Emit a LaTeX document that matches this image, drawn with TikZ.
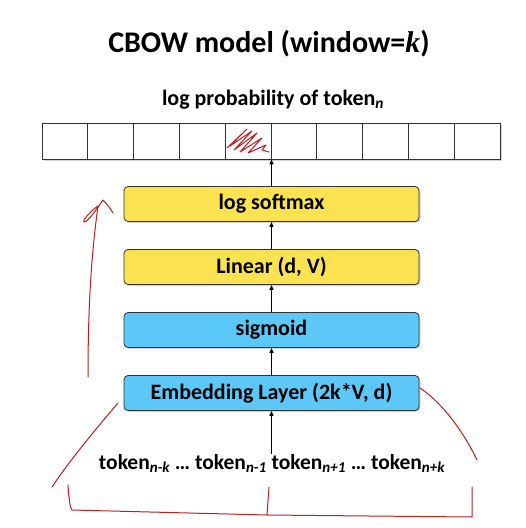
\documentclass[tikz,border=0pt]{standalone}
\usepackage{fontspec}
\setmainfont{Carlito}
\newfontfamily\kfont{Liberation Serif}
\usetikzlibrary{shadows,arrows.meta,calc}
\definecolor{ly}{RGB}{250,226,80}
\definecolor{lb}{RGB}{92,200,248}
\definecolor{pen}{RGB}{190,30,30}
\newcommand\sbs[1]{\textsubscript{\itshape #1}}
\tikzset{
  layer/.style={draw=black!80, line width=0.8pt, rounded corners=4pt, minimum width=295pt, minimum height=35pt, inner sep=0pt, font=\fontsize{22}{26}\selectfont\bfseries, drop shadow={shadow xshift=1.5pt, shadow yshift=-1.5pt, opacity=0.35}},
  flow/.style={-{Triangle[length=5pt,width=4pt]}, line width=1.2pt},
  ink/.style={pen, line width=1pt, line cap=round, line join=round}
}
\begin{document}
\begin{tikzpicture}[x=1pt,y=-1pt]
\useasboundingbox (0,0) rectangle (526,528);
\node (title) at (269,44) {\fontsize{30}{34}\selectfont\bfseries CBOW model (window={\kfont\itshape k})};
\node (cap) at (273,100) {\fontsize{22}{26}\selectfont\bfseries log probability of token\sbs{n}};
\node[draw=black!80, line width=0.8pt, minimum width=458pt, minimum height=36pt, inner sep=0pt, fill=white, drop shadow={shadow xshift=1.5pt, shadow yshift=-1.5pt, opacity=0.35}] (bar) at (271,141) {};
\foreach \i in {1,...,9} {
  \draw[black!80, line width=0.8pt] ($(bar.north west)!\i/10!(bar.north east)$) -- ($(bar.south west)!\i/10!(bar.south east)$);
}
\node[layer, fill=ly] (ls) at (271.5,204) {log softmax};
\node[layer, fill=ly] (lin) at (271.5,267) {Linear (d, V)};
\node[layer, fill=lb] (sig) at (271.5,330) {sigmoid};
\node[layer, fill=lb] (emb) at (271.5,393) {Embedding Layer (2k*V, d)};
\node[inner sep=0pt, anchor=north] (tok) at (272,454) {\fontsize{21.5}{25}\selectfont\bfseries token\sbs{n-k} … token\sbs{n-1} token\sbs{n+1} … token\sbs{n+k}};
\draw[flow] (tok.north -| emb.south) -- (emb.south);
\draw[flow] (emb) -- (sig);
\draw[flow] (sig) -- (lin);
\draw[flow] (lin) -- (ls);
\draw[flow] (ls.north) -- (bar.south -| ls.north);
% red annotations
\draw[ink] (227,148) -- (247,129) -- (230,146) -- (252,131) -- (234,150) -- (257,133) -- (240,152) -- (262,138) -- (248,153) -- (266,145) -- (262,150) -- (269,152);
\draw[ink] (88,377) .. controls (88,300) and (92,250) .. (98,206);
\draw[ink] (98,206) .. controls (92,210) and (82,220) .. (84,222) .. controls (88,222) and (96,210) .. (103,200) .. controls (107,204) and (110,208) .. (113,213);
\draw[ink] (118,403) .. controls (95,430) and (70,460) .. (52,487);
\draw[ink] (420,388) .. controls (445,405) and (465,435) .. (477,460);
\draw[ink] (68,485) .. controls (69,500) and (70,508) .. (72,510) -- (267,515) -- (472,517) -- (472,487);
\draw[ink] (269,487) -- (267,515);
\end{tikzpicture}
\end{document}
